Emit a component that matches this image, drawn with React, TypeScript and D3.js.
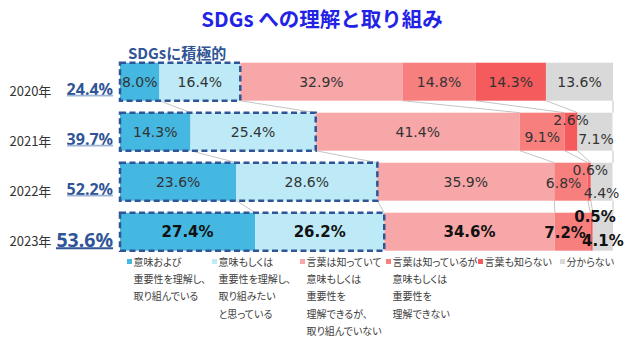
import React from 'react';
import * as d3 from 'd3';

// ---------- data ----------
const years = ['2020年', '2021年', '2022年', '2023年'];
const understandAct = [8.0, 14.3, 23.6, 27.4];
const understandWant = [16.4, 25.4, 28.6, 26.2];
const knowUnderstandNoAct = [32.9, 41.4, 35.9, 34.6];
const knowNotUnderstand = [14.8, 9.1, 6.8, 7.2];
const dontKnowWord = [14.3, 2.6, 0.6, 0.5];
const unknown = [13.6, 7.1, 4.4, 4.1];
const seriesValues = [understandAct, understandWant, knowUnderstandNoAct, knowNotUnderstand, dontKnowWord, unknown];
const legendLines = [
  ['意味および', '重要性を理解し、', '取り組んでいる'],
  ['意味もしくは', '重要性を理解し、', '取り組みたい', 'と思っている'],
  ['言葉は知っていて', '意味もしくは', '重要性を', '理解できるが、', '取り組んでいない'],
  ['言葉は知っているが', '意味もしくは', '重要性を', '理解できない'],
  ['言葉も知らない'],
  ['分からない'],
];
const titleText = 'SDGs への理解と取り組み';
const activeLabel = 'SDGsに積極的';

// ---------- styles / layout ----------
const colors = ['#45b8e1', '#bdeaf6', '#f8a7a9', '#f7807f', '#f55b5d', '#d9d9d9'];
const legendX = [127, 212, 300, 386, 478, 560];
const labelShift: Record<string, { dx: number; dy: number }> = {
  '1-3': { dx: 0, dy: 5 },
  '1-4': { dx: 0, dy: -12 },
  '1-5': { dx: 1, dy: 7.5 },
  '2-3': { dx: -7.5, dy: 1.5 },
  '2-4': { dx: 1, dy: -12 },
  '2-5': { dx: 0, dy: 11.5 },
  '3-3': { dx: -7.5, dy: 1.5 },
  '3-4': { dx: 3.5, dy: -15 },
  '3-5': { dx: 0, dy: 9.5 },
};
const CJK = '"Noto Sans CJK JP", "Noto Sans", sans-serif';
const LAT = '"DejaVu Sans", Verdana, sans-serif';

export default function App() {
  const W = 640, H = 337;
  const x = d3.scaleLinear().domain([0, 100]).range([120, 613]);
  const y = d3.scaleBand<string>().domain(years).range([62.7, 250.7]).paddingInner(0.24).paddingOuter(0);
  const bw = y.bandwidth();

  const rows = years.map((yr, i) => {
    let acc = 0;
    const segs = seriesValues.map((s, k) => {
      const x0 = acc;
      acc += s[i];
      return { k, v: s[i], x0, x1: acc };
    });
    return { yr, i, segs, top: y(yr) as number };
  });

  const connectors: { x1: number; y1: number; x2: number; y2: number }[] = [];
  for (let i = 0; i < rows.length - 1; i++) {
    for (let k = 0; k < seriesValues.length; k++) {
      const a = rows[i].segs[k].x1;
      const b = rows[i + 1].segs[k].x1;
      connectors.push({
        x1: x(k === seriesValues.length - 1 ? 100 : a),
        y1: rows[i].top + bw,
        x2: x(k === seriesValues.length - 1 ? 100 : b),
        y2: rows[i + 1].top,
      });
    }
  }

  return (
    <svg width={W} height={H} style={{ position: 'absolute', left: 0, top: 0, background: '#fff' }}>
      <text x={322} y={18} textAnchor="middle" dominantBaseline="central"
        style={{ fontFamily: CJK, fontWeight: 700, fontSize: 20.5, fill: '#2323e6' }}>{titleText}</text>
      <text x={128} y={52} dominantBaseline="central"
        style={{ fontFamily: CJK, fontWeight: 700, fontSize: 15, fill: '#2f5597' }}>{activeLabel}</text>

      {connectors.map((c, j) => (
        <line key={j} x1={c.x1} y1={c.y1} x2={c.x2} y2={c.y2} stroke="#c4c4c4" strokeWidth={1} />
      ))}

      {rows.map((r) => (
        <g key={r.yr}>
          {r.segs.map((s) => (
            <rect key={s.k} x={x(s.x0)} y={r.top} width={x(s.x1) - x(s.x0)} height={bw} fill={colors[s.k]} />
          ))}
        </g>
      ))}

      {rows.map((r) => {
        const end = r.segs[1].x1;
        return (
          <rect key={'box' + r.yr} x={x(0)} y={r.top} width={x(end) - x(0)} height={bw}
            fill="none" stroke="#2f5597" strokeWidth={2.5} strokeDasharray="6 3.5" />
        );
      })}

      {rows.map((r) => {
        const bold = r.i === rows.length - 1;
        return (
          <g key={'lab' + r.yr}>
            {r.segs.map((s) => {
              const sh = labelShift[`${r.i}-${s.k}`] || { dx: 0, dy: 0 };
              return (
                <text key={s.k} x={x((s.x0 + s.x1) / 2) + sh.dx} y={r.top + bw / 2 + sh.dy}
                  textAnchor="middle" dominantBaseline="central"
                  style={{ fontFamily: LAT, fontSize: bold ? 15 : 14, fontWeight: bold ? 700 : 400, fill: bold ? '#111' : '#333' }}>
                  {s.v.toFixed(1) + '%'}
                </text>
              );
            })}
          </g>
        );
      })}

      {rows.map((r) => {
        const last = r.i === rows.length - 1;
        const total = (understandAct[r.i] + understandWant[r.i]).toFixed(1) + '%';
        const cy = r.top + bw / 2;
        return (
          <g key={'y' + r.yr}>
            <text x={9.5} y={cy + 8.5} dominantBaseline="central"
              style={{ fontFamily: CJK, fontSize: 13, fill: '#333' }}>{r.yr}</text>
            <text x={113} y={cy + (last ? 8 : 7)} textAnchor="end" dominantBaseline="central"
              style={{ fontFamily: '"Noto Sans", sans-serif', fontWeight: 700, fontSize: last ? 19.5 : 16, fill: '#2f5597' }}>{total}</text>
            <line x1={last ? 56 : 67} x2={113} y1={cy + (last ? 16.5 : 14)} y2={cy + (last ? 16.5 : 14)}
              stroke={last ? '#2f5597' : '#9fb6d8'} strokeWidth={last ? 2 : 1.8} />
          </g>
        );
      })}

      {legendLines.map((lines, k) => (
        <g key={'lg' + k}>
          <rect x={legendX[k]} y={259} width={5} height={5} fill={colors[k]} />
          {lines.map((t, j) => (
            <text key={j} x={legendX[k] + 6.5} y={261.5 + j * 17.2} dominantBaseline="central"
              style={{ fontFamily: CJK, fontSize: 10, fill: '#404040', fontFeatureSettings: '"palt"' }}>{t}</text>
          ))}
        </g>
      ))}
    </svg>
  );
}
